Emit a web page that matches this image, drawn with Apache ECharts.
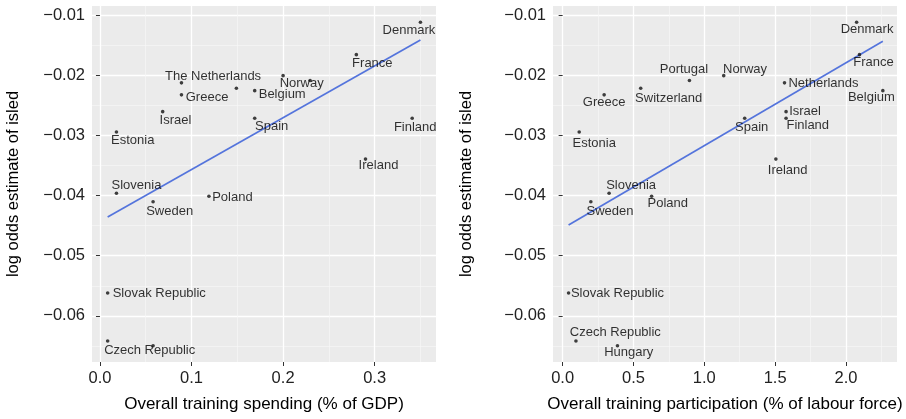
<!DOCTYPE html>
<html>
<head>
<meta charset="utf-8">
<script src="https://cdn.jsdelivr.net/npm/echarts@6/dist/echarts.min.js"></script>
<style>
  html, body { margin: 0; padding: 0; background: #ffffff; }
  #chart { width: 906px; height: 419px; }
</style>
</head>
<body>
<div id="chart"></div>
<script>
// ---- data -------------------------------------------------------------
const countries = [
  'Denmark', 'France', 'Netherlands', 'Greece', 'Switzerland', 'Norway',
  'Portugal', 'Belgium', 'Israel', 'Spain', 'Finland', 'Estonia', 'Ireland',
  'Slovenia', 'Poland', 'Sweden', 'Slovak Republic', 'Czech Republic', 'Hungary'
];
// overall training spending, % of GDP
const spendingGdp = [
  0.350, 0.280, 0.089, 0.089, 0.149, 0.200,
  0.2295, 0.169, 0.0685, 0.169, 0.341, 0.018, 0.290,
  0.018, 0.119, 0.058, 0.0084, 0.0084, 0.058
];
// overall training participation, % of labour force
const participationLabour = [
  2.075, 2.095, 1.566, 0.293, 0.551, 1.137,
  0.895, 2.26, 1.577, 1.285, 1.577, 0.117, 1.505,
  0.328, 0.628, 0.199, 0.042, 0.094, 0.387
];
// log odds estimate of isled
const isledLogOdds = [
  -0.0111, -0.0165, -0.0212, -0.0232, -0.0221, -0.0200,
  -0.0208, -0.0225, -0.0260, -0.0271, -0.0271, -0.0294, -0.0339,
  -0.0396, -0.0401, -0.0410, -0.0562, -0.0642, -0.0650
];

// label text differences / suppressed labels on the spending panel
const spendingDisplayNames = { 'Netherlands': 'The Netherlands' };
const spendingUnlabelled = ['Switzerland', 'Portugal', 'Hungary'];

// tick values
const spendingTicks = [0, 0.1, 0.2, 0.3];
const spendingMinorTicks = [0.05, 0.15, 0.25, 0.35];
const participationTicks = [0, 0.5, 1, 1.5, 2];
const participationMinorTicks = [0.25, 0.75, 1.25, 1.75, 2.25];
const isledTicks = [-0.06, -0.05, -0.04, -0.03, -0.02, -0.01];
const isledMinorTicks = [-0.065, -0.055, -0.045, -0.035, -0.025, -0.015];

// axis extents (data range plus padding)
const spendingRange = [-0.0087, 0.367];
const participationRange = [-0.068, 2.36];
const isledRange = [-0.0677, -0.0084];

// ---- label placement (pixel offsets of label centre from each point) ----
const spendingLabelOffsets = {
  'Denmark': [-11.5, 8], 'France': [16, 9], 'Netherlands': [31.6, -6],
  'Greece': [25.6, 2.7], 'Norway': [18.6, 7.3], 'Belgium': [27.5, 3.6],
  'Israel': [12.8, 9], 'Spain': [17, 8.4], 'Finland': [3, 9],
  'Estonia': [16.3, 8], 'Ireland': [13, 6.7], 'Slovenia': [20, -7.8],
  'Poland': [23.5, 1.6], 'Sweden': [16.6, 9.5], 'Slovak Republic': [51.6, 0],
  'Czech Republic': [42, 9]
};
const participationLabelOffsets = {
  'Denmark': [10.4, 7.3], 'France': [14, 8], 'Netherlands': [39, 1],
  'Greece': [0, 7.3], 'Switzerland': [28, 10], 'Norway': [21.3, -6.3],
  'Portugal': [-5.5, -11], 'Belgium': [-11.4, 7], 'Israel': [19, -0.7],
  'Finland': [21.7, 7.4], 'Spain': [7, 9], 'Estonia': [15, 11.3],
  'Ireland': [11.8, 11.4], 'Slovenia': [22, -8.3], 'Poland': [16.2, 7.3],
  'Sweden': [19.2, 10], 'Slovak Republic': [48.9, 0],
  'Czech Republic': [39.4, -8.3], 'Hungary': [11.3, 6.7]
};

// ---- helpers ------------------------------------------------------------
const FONT = "'Liberation Sans', Arial, Helvetica, sans-serif";
const PANEL_BG = '#ebebeb';

// ordinary least squares line across the observed x range
function olsLine(xs, ys) {
  const n = xs.length;
  const mx = xs.reduce((a, b) => a + b, 0) / n;
  const my = ys.reduce((a, b) => a + b, 0) / n;
  let sxy = 0, sxx = 0;
  for (let i = 0; i < n; i++) {
    sxy += (xs[i] - mx) * (ys[i] - my);
    sxx += (xs[i] - mx) * (xs[i] - mx);
  }
  const b = sxy / sxx;
  const a = my - b * mx;
  const lo = Math.min(...xs), hi = Math.max(...xs);
  return [[lo, a + b * lo], [hi, a + b * hi]];
}

function pointsFor(xs, displayNames, unlabelled) {
  return countries.map((name, i) => ({
    name: (displayNames && displayNames[name]) || name,
    value: [xs[i], isledLogOdds[i]],
    label: { show: unlabelled.indexOf(name) < 0 }
  }));
}

const minusFmt = (v) => (v < 0 ? '\u2212' : '') + Math.abs(v).toFixed(2);

function majorX(gridIndex, range, ticks, digits, title) {
  return {
    type: 'value', gridIndex, min: range[0], max: range[1],
    name: title, nameLocation: 'middle', nameGap: 34,
    nameTextStyle: { fontFamily: FONT, fontSize: 17, color: '#000' },
    axisLine: { show: false },
    axisTick: { show: true, length: 4, customValues: ticks, lineStyle: { color: '#333', width: 1 } },
    axisLabel: {
      customValues: ticks, margin: 8, fontFamily: FONT, fontSize: 16.5, color: '#222',
      formatter: (v) => Number(v).toFixed(digits)
    },
    splitLine: { show: true, lineStyle: { color: '#ffffff', width: 1.3 } }
  };
}
function minorX(gridIndex, range, ticks) {
  return {
    type: 'value', gridIndex, min: range[0], max: range[1],
    axisLine: { show: false },
    axisTick: { show: false, customValues: ticks },
    axisLabel: { show: false, customValues: ticks },
    splitLine: { show: true, lineStyle: { color: '#f6f6f6', width: 0.7 } }
  };
}
function majorY(gridIndex, nameGap) {
  return {
    type: 'value', gridIndex, min: isledRange[0], max: isledRange[1],
    name: 'log odds estimate of isled', nameLocation: 'middle', nameRotate: 90, nameGap,
    nameTextStyle: { fontFamily: FONT, fontSize: 16.5, color: '#000' },
    axisLine: { show: false },
    axisTick: { show: true, length: 4, customValues: isledTicks, lineStyle: { color: '#333', width: 1 } },
    axisLabel: {
      customValues: isledTicks, margin: 7, fontFamily: FONT, fontSize: 16.5, color: '#222',
      formatter: minusFmt
    },
    splitLine: { show: true, lineStyle: { color: '#ffffff', width: 1.3 } }
  };
}
function minorY(gridIndex) {
  return {
    type: 'value', gridIndex, min: isledRange[0], max: isledRange[1],
    axisLine: { show: false },
    axisTick: { show: false, customValues: isledMinorTicks },
    axisLabel: { show: false, customValues: isledMinorTicks },
    splitLine: { show: true, lineStyle: { color: '#f6f6f6', width: 0.7 } }
  };
}

function scatterSeries(xAxisIndex, yAxisIndex, data, offsets) {
  return {
    type: 'scatter', xAxisIndex, yAxisIndex, data,
    symbolSize: 3.6, z: 4,
    itemStyle: { color: '#111' },
    label: {
      show: true, position: 'inside', formatter: '{b}',
      align: 'center', verticalAlign: 'middle',
      fontFamily: FONT, fontSize: 13, color: '#000'
    },
    // shift each name label away from its point
    labelLayout: (params) => {
      const off = offsets[countries[params.dataIndex]] || [0, 0];
      return { dx: off[0], dy: off[1], hideOverlap: false };
    },
    emphasis: { disabled: true }
  };
}
function fitSeries(xAxisIndex, yAxisIndex, xs) {
  return {
    type: 'line', xAxisIndex, yAxisIndex,
    data: olsLine(xs, isledLogOdds),
    showSymbol: false, symbol: 'none', z: 3,
    lineStyle: { color: '#5474dc', width: 1.7 },
    emphasis: { disabled: true }
  };
}

// ---- chart --------------------------------------------------------------
const chart = echarts.init(document.getElementById('chart'), null, { renderer: 'canvas' });
chart.setOption({
  animation: false,
  backgroundColor: '#ffffff',
  grid: [
    { left: 92, top: 6, width: 344, height: 356, show: true, backgroundColor: PANEL_BG, borderWidth: 0 },
    { left: 553, top: 6, width: 344, height: 356, show: true, backgroundColor: PANEL_BG, borderWidth: 0 }
  ],
  xAxis: [
    majorX(0, spendingRange, spendingTicks, 1, 'Overall training spending (% of GDP)'),
    majorX(1, participationRange, participationTicks, 1, 'Overall training participation (% of labour force)'),
    minorX(0, spendingRange, spendingMinorTicks),
    minorX(1, participationRange, participationMinorTicks)
  ],
  yAxis: [
    majorY(0, 70),
    majorY(1, 78),
    minorY(0),
    minorY(1)
  ],
  series: [
    fitSeries(0, 0, spendingGdp),
    scatterSeries(0, 0, pointsFor(spendingGdp, spendingDisplayNames, spendingUnlabelled), spendingLabelOffsets),
    fitSeries(1, 1, participationLabour),
    scatterSeries(1, 1, pointsFor(participationLabour, null, []), participationLabelOffsets)
  ]
});
</script>
</body>
</html>
